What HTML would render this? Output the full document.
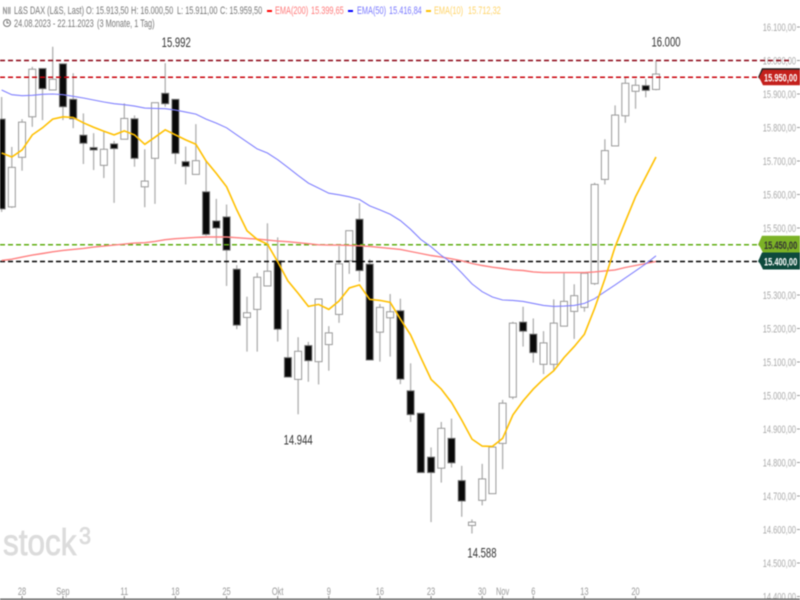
<!DOCTYPE html>
<html lang="de">
<head>
<meta charset="utf-8">
<title>L&amp;S DAX Chart</title>
<style>
html,body{margin:0;padding:0;background:#fff;width:800px;height:600px;overflow:hidden}
svg{display:block;filter:blur(.4px)}
text{font-family:"Liberation Sans",Arial,sans-serif}
.hd{font-size:11px;fill:#777}
</style>
</head>
<body>
<svg id="chart" xmlns="http://www.w3.org/2000/svg" width="800" height="600" viewBox="0 0 800 600">
  <rect x="0" y="0" width="800" height="600" fill="#fff"/>
  <g fill="#dcdcdc" stroke="#dcdcdc" stroke-width=".8">
    <text transform="translate(3,555) scale(.85,1)" font-size="37">stock</text>
    <text transform="translate(79,544) scale(.9,1)" font-size="24">3</text>
  </g>
  <g id="y-axis"></g>
  <g id="x-axis"></g>
  <g id="candles"></g>
  <g id="levels"></g>
  <g id="emas"></g>
  <g id="tags"></g>
  <g id="annotations"></g>

  <g>
    <path d="M3.5 14V7L6.5 14V7M8.5 7V14M10 7V14" fill="none" stroke="#999" stroke-width="1"/>
    <text class="hd" transform="translate(14,14) scale(.67,1)">L&amp;S DAX (L&amp;S, Last)</text>
    <text class="hd" transform="translate(86,14) scale(.67,1)">O: 15.913,50</text>
    <text class="hd" transform="translate(131,14) scale(.67,1)">H: 16.000,50</text>
    <text class="hd" transform="translate(177,14) scale(.67,1)">L: 15.911,00</text>
    <text class="hd" transform="translate(220,14) scale(.67,1)">C: 15.959,50</text>
    <rect x="267" y="10" width="5" height="2" fill="#f00"/>
    <text class="hd" style="fill:#ff7a7a" transform="translate(275,14) scale(.67,1)">EMA(200)</text>
    <text class="hd" style="fill:#ff7a7a" transform="translate(311,14) scale(.67,1)">15.399,65</text>
    <rect x="348" y="10" width="5" height="2" fill="#00f"/>
    <text class="hd" style="fill:#7a7aff" transform="translate(357,14) scale(.67,1)">EMA(50)</text>
    <text class="hd" style="fill:#7a7aff" transform="translate(389,14) scale(.67,1)">15.416,84</text>
    <rect x="426" y="10" width="5" height="2" fill="#ffc000"/>
    <text class="hd" style="fill:#ffd469" transform="translate(434,14) scale(.67,1)">EMA(10)</text>
    <text class="hd" style="fill:#ffd469" transform="translate(468,14) scale(.67,1)">15.712,32</text>
    <g fill="none" stroke="#777" stroke-width="1">
      <circle cx="7" cy="23" r="3.5"/>
      <path d="M7 20.5V23H9"/>
    </g>
    <text class="hd" transform="translate(14,27) scale(.67,1)">24.08.2023 - 22.11.2023</text>
    <text class="hd" transform="translate(97,27) scale(.67,1)">(3 Monate, 1 Tag)</text>
  </g>
  <rect x="0" y="598.5" width="800" height="1.5" fill="#666"/>
</svg>
<script>
const opens = [15825,15563,15711,15832,15976,15912,15990,15884,15777,15740,15687,15751,15765,15826,15623,15708,15902,15884,15698,15660,15608,15521,15533,15377,15233,15257,15327,15402,15113,15048,15149,15101,15152,15242,15402,15526,15392,15189,15232,15253,15014,14947,14816,14783,14872,14746,14612,14687,14707,14857,14995,15219,15183,15093,15093,15207,15251,15263,15334,15645,15745,15835,15908,15925,15913.5];
const highs = [15891,15742,15825,15981,15976,16041,15990,15962,15842,15783,15787,15760,15872,15836,15735,15874,15992,15884,15743,15810,15701,15587,15570,15389,15295,15366,15514,15472,15257,15174,15160,15288,15207,15446,15492,15574,15407,15273,15303,15289,15096,14947,14845,14921,14931,14790,14630,14796,14846,14987,15220,15265,15230,15192,15287,15365,15332,15365,15635,15765,15866,15950,15945,15945,16000];
const lows = [15548,15560,15671,15802,15822,15912,15822,15798,15691,15673,15649,15575,15765,15683,15562,15572,15862,15691,15630,15660,15477,15452,15327,15198,15131,15131,15327,15161,15055,14944,15041,15033,15074,15217,15363,15340,15106,15101,15116,15034,14921,14769,14622,14740,14785,14638,14588,14672,14707,14780,14989,15146,15098,15064,15073,15207,15169,15250,15330,15630,15745,15814,15856,15890,15911];
const closes = [15557,15681,15816,15974,15916,15944,15862,15826,15753,15733,15735,15737,15827,15708,15640,15874,15871,15723,15684,15701,15481,15500,15434,15210,15247,15353,15371,15198,15055,15132,15104,15288,15187,15393,15492,15373,15106,15263,15250,15049,14943,14770,14770,14902,14799,14685,14622,14751,14846,14977,15216,15192,15128,15157,15216,15281,15298,15365,15630,15731,15837,15932,15926,15911,15959.5];
const ema10 = [15724,15712,15733,15778,15799,15825,15832,15830,15814,15801,15789,15778,15790,15778,15750,15771,15793,15778,15763,15750,15700,15663,15623,15554,15492,15466,15452,15399,15342,15305,15266,15272,15257,15282,15321,15330,15287,15284,15278,15228,15181,15113,15048,15019,14979,14927,14870,14849,14848,14872,14942,14984,15019,15049,15074,15113,15146,15183,15260,15348,15444,15519,15593,15653,15712];
const ema50 = [15912,15898,15895,15896,15899,15900,15898,15893,15888,15882,15876,15871,15868,15864,15858,15857,15856,15852,15846,15840,15825,15813,15799,15778,15757,15736,15724,15704,15681,15657,15634,15619,15604,15599,15593,15585,15566,15554,15541,15522,15496,15466,15444,15418,15397,15366,15333,15310,15294,15285,15284,15281,15275,15269,15266,15267,15269,15275,15289,15310,15330,15351,15372,15393,15417];
const ema200 = [15403,15407,15413,15419,15424,15429,15433,15436,15439,15443,15446,15449,15452,15455,15456,15460,15465,15468,15470,15472,15473,15473,15473,15471,15469,15467,15464,15461,15459,15456,15453,15450,15449,15449,15448,15447,15445,15442,15439,15436,15430,15424,15418,15413,15408,15402,15394,15388,15383,15379,15375,15373,15369,15367,15367,15367,15367,15367,15369,15372,15375,15382,15388,15394,15400];
const yTicks = [16100,16000,15900,15800,15700,15600,15500,15400,15300,15200,15100,15000,14900,14800,14700,14600,14500,14400];
const yTickLabels = ["16.100,00","16.000,00","15.900,00","15.800,00","15.700,00","15.600,00","15.500,00","15.400,00","15.300,00","15.200,00","15.100,00","15.000,00","14.900,00","14.800,00","14.700,00","14.600,00","14.500,00","14.400,00"];
const xTickIndex = [2,6,12,17,22,27,32,37,42,47,49,52,57,62];
const xTickLabels = ["28","Sep","11","18","25","Okt","9","16","23","30","Nov","6","13","20"];
const levelPrices = [16000,15950,15450,15400];
const levelNames = ["level-16000","level-15950","level-15450","level-15400"];
const levelTexts = ["","15.950,00","15.450,00","15.400,00"];
const annotationIndex = [16,29,46,64];
const annotationPrices = [15992,14944,14588,16000];
const annotationTexts = ["15.992","14.944","14.588","16.000"];

const NS = "http://www.w3.org/2000/svg";
const candleCount = closes.length;
function xScale(i){ return 656 - (candleCount - 1 - i) * 10.225; }
function yScale(v){ return 27 + (16100 - v) * 0.335; }
function mk(tag, parent, attrs){
  const el = document.createElementNS(NS, tag);
  for (const k in attrs) el.setAttribute(k, attrs[k]);
  parent.appendChild(el);
  return el;
}
const yAxisG = document.getElementById("y-axis");
const xAxisG = document.getElementById("x-axis");
const candlesG = document.getElementById("candles");
const levelsG = document.getElementById("levels");
const emasG = document.getElementById("emas");
const tagsG = document.getElementById("tags");
const annotationsG = document.getElementById("annotations");

yTicks.forEach(function(v, i){
  const y = yScale(v);
  const label = mk("text", yAxisG, {transform:"translate(796," + (y + 4) + ") scale(.68,1)", "text-anchor":"end", "font-size":11, fill:"#aaa"});
  label.textContent = yTickLabels[i];
  
  
  const tick = mk("rect", yAxisG, {x:797, y:y - 0.5, width:3, height:1, fill:"#999"});
  
  
});

xTickIndex.forEach(function(ci, i){
  const x = xScale(ci);
  const label = mk("text", xAxisG, {transform:"translate(" + x + ",595) scale(.68,1)", "text-anchor":"middle", "font-size":11, fill:"#999"});
  label.textContent = xTickLabels[i];
  
  
  const tick = mk("rect", xAxisG, {x:x - 0.5, y:596, width:1, height:3, fill:"#888"});
  
  
});

closes.forEach(function(c, i){
  const x = xScale(i), o = opens[i];
  const wick = mk("line", candlesG, {x1:x, x2:x, y1:yScale(highs[i]), y2:yScale(lows[i]), stroke:"#b4b4b4", "stroke-width":1.4});
  
  
  const top = yScale(Math.max(o, c)), bottom = yScale(Math.min(o, c));
  const body = mk("rect", candlesG, {x:x - 3.5, y:top, width:7, height:Math.max(bottom - top, 1), fill:c < o ? "#0a0a0a" : "#fff", stroke:c < o ? "#777" : "#999", "stroke-width":1});
  
  
});

const levelColors = ["#8a0010","#c8000a","#5fae12","#000"];
const levelEnds = [790,760,760,760];
levelPrices.forEach(function(v, i){
  const y = yScale(v);
  const line = mk("line", levelsG, {x1:0, x2:levelEnds[i], y1:y, y2:y, stroke:levelColors[i], "stroke-width":1.5, "stroke-dasharray":"5 3"});
  
  
});

function emaPath(series){
  return series.map(function(v, i){ return (i ? "L" : "M") + xScale(i).toFixed(1) + " " + yScale(v).toFixed(1); }).join("");
}
const line200 = mk("path", emasG, {d:emaPath(ema200), fill:"none", stroke:"#ff8080", "stroke-width":1.4});


const line50 = mk("path", emasG, {d:emaPath(ema50), fill:"none", stroke:"#8080ff", "stroke-width":1.1});


const line10 = mk("path", emasG, {d:emaPath(ema10), fill:"none", stroke:"#ffc000", "stroke-width":1.6});



const tagFills = ["","#c4201c","#7cb226","#0e4a3c"];
const tagText = ["","#fff","#333","#fff"];
const tagEdges = ["","#222","#7cb226","#0e4a3c"];
levelPrices.forEach(function(v, i){
  if (!levelTexts[i]) return;
  const y = yScale(v);
  const edge = mk("path", tagsG, {d:"M758 " + y + "L762 " + (y - 9) + "H800V" + (y + 4) + "H762Z", fill:tagEdges[i]});
  
  
  const shape = mk("path", tagsG, {d:"M759 " + y + "L763 " + (y - 7.5) + "H800V" + (y + 8) + "H763Z", fill:tagFills[i]});
  
  
  const label = mk("text", tagsG, {transform:"translate(764," + (y + 4) + ") scale(.68,1)", "font-size":11, "font-weight":"bold", fill:tagText[i]});
  label.textContent = levelTexts[i];
  
  
});

const annotationOffsets = [-16,30,24,-14];
const annotationDx = [11,0,10,10];
annotationPrices.forEach(function(v, i){
  const y = yScale(v) + annotationOffsets[i];
  const label = mk("text", annotationsG, {transform:"translate(" + (xScale(annotationIndex[i]) + annotationDx[i]) + "," + y + ") scale(.68,1)", "text-anchor":"middle", "font-size":14, fill:"#333"});
  label.textContent = annotationTexts[i];
  
  
});
</script>
</body>
</html>
